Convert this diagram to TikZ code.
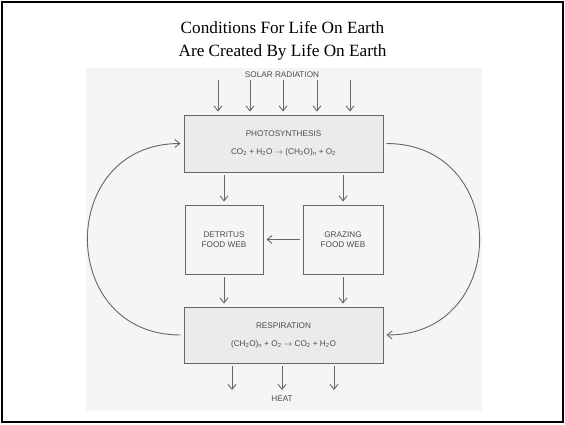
\documentclass[tikz,border=0pt]{standalone}
\usepackage{fontspec}
\setmainfont{Liberation Serif}
\newfontfamily\labelfont{Liberation Sans}
\usepackage{tikz}
\usetikzlibrary{positioning, arrows.meta}

\begin{document}
\begin{tikzpicture}[x=1pt, y=-1pt,
	flow/.style={draw=black!60, line width=0.9pt, shorten <=3pt, shorten >=3pt, -{Straight Barb[length=5pt, width=8pt, line width=0.9pt]}},
	cell/.style={draw=black!60, line width=0.9pt, fill=black!8, text=black!70, align=center, inner sep=0pt, font=\labelfont\fontsize{8.2}{10}\selectfont},
	tag/.style={text=black!70, inner sep=0pt, font=\labelfont\fontsize{8.2}{10}\selectfont}]
				\useasboundingbox (0,0) rectangle (565,424);
				\fill[black!4] (86,68) rectangle (482,411);
				\draw[line width=2pt] (2,2) rectangle (563,422);
				
				\node (title) at (282.5,41) [align=center, font=\fontsize{17.2}{23}\selectfont]
					{Conditions For Life On Earth\\Are Created By Life On Earth};
				
				\node (photo) at (283.5,143.5) [cell, minimum width=199pt, minimum height=57pt]
					{PHOTOSYNTHESIS\\[8pt]CO\textsubscript{2} + H\textsubscript{2}O $\rightarrow$ (CH\textsubscript{2}O)\textsubscript{n} + O\textsubscript{2}};
				\node (detritus) at (224,239.5) [cell, fill=none, minimum width=78pt, minimum height=69pt]
					{DETRITUS\\FOOD WEB};
				\node (grazing) at (343,239.5) [cell, fill=none, minimum width=80pt, minimum height=69pt]
					{GRAZING\\FOOD WEB};
				\node (resp) at (283.5,335) [cell, minimum width=199pt, minimum height=56pt]
					{RESPIRATION\\[8pt](CH\textsubscript{2}O)\textsubscript{n} + O\textsubscript{2} $\rightarrow$ CO\textsubscript{2} + H\textsubscript{2}O};
				
				\node (solar) at (282,75) [tag] {SOLAR RADIATION};
				\foreach \x in {218,250,283,317,350} {
					\coordinate (sun\x) at (\x,77);
					\draw[flow] (sun\x) -- (sun\x |- photo.north);
				}
				
				\draw[flow] (photo.south -| detritus) -- (detritus.north);
				\draw[flow] (photo.south -| grazing) -- (grazing.north);
				\draw[flow] (grazing.west) -- (detritus.east);
				\draw[flow] (detritus.south) -- (detritus.south |- resp.north);
				\draw[flow] (grazing.south) -- (grazing.south |- resp.north);
				
				\draw[flow] (resp.west) .. controls +(-127,0) and +(-127,0) .. (photo.west);
				\draw[flow] (photo.east) .. controls +(127,0) and +(127,0) .. (resp.east);
				
				\coordinate (heatL) at (232,393);
				\coordinate (heatM) at (282,393);
				\coordinate (heatR) at (334,393);
				\foreach \h in {heatL,heatM,heatR}
					\draw[flow] (resp.south -| \h) -- (\h);
				\node (heat) at (282,399) [tag] {HEAT};
			\end{tikzpicture}
\end{document}
